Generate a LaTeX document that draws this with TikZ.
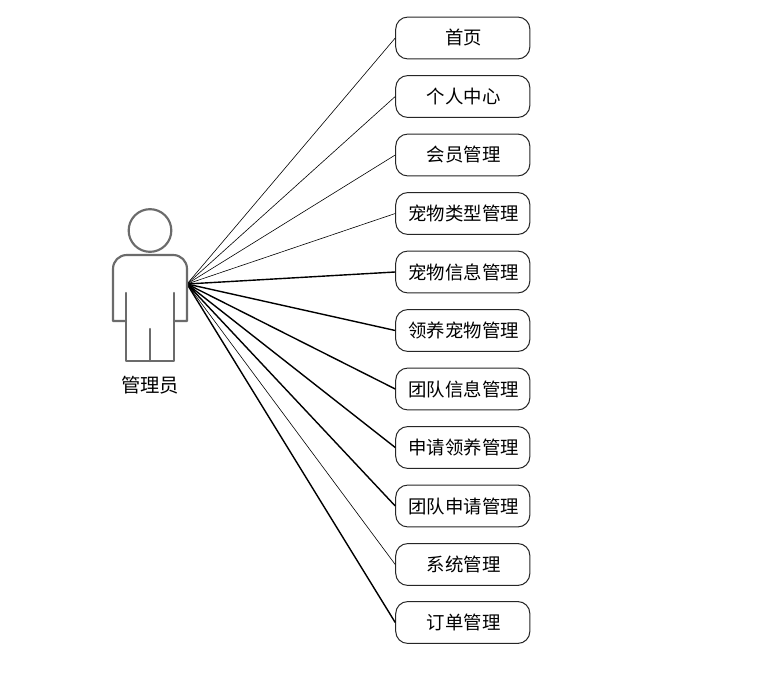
\documentclass[tikz,border=0pt]{standalone}
\usepackage{fontspec}
\setmainfont{Noto Sans CJK SC}
\tikzset{
  px/.style={x=0.75pt,y=-0.75pt},
  usecase/.style={draw=black!85,line width=0.75pt,rounded corners=9pt,minimum width=100.6pt,minimum height=31.4pt,inner sep=0pt,font=\fontsize{13.8pt}{16pt}\selectfont,text=black},
  thinlink/.style={draw=black,line width=0.45pt},
  thicklink/.style={draw=black,line width=1.05pt},
  actorline/.style={draw=black!58,line width=1.6pt,line join=round,line cap=round},
  actorlabel/.style={inner sep=0pt,font=\fontsize{14.5pt}{16pt}\selectfont,text=black}
}
\begin{document}
\begin{tikzpicture}[px]
\useasboundingbox (0,0) rectangle (771,691);
\fill[white] (0,0) rectangle (771,691);
\coordinate (actor) at (187,284);
\foreach \n/\y/\t in {a/38/首页,b/96.5/个人中心,c/155/会员管理,d/213.5/宠物类型管理,e/272/宠物信息管理,f/330.5/领养宠物管理,g/389/团队信息管理,h/447.5/申请领养管理,i/506/团队申请管理,j/564.5/系统管理,k/622.5/订单管理}{
  \node[usecase] (\n) at (462.8,\y) {\hspace{1.2pt}\raisebox{-0.6pt}{\t}};
}
\foreach \n in {a,b,c,d,j}{\draw[thinlink] (actor) -- (\n.west);}
\foreach \n in {e,f,g,h,i,k}{\draw[thicklink] (actor) -- (\n.west);}
\node[draw=black!58,line width=1.6pt,circle,minimum size=32pt,inner sep=0pt] (head) at (150,230.5) {};
\draw[actorline] (126,321) -- (113,321) -- (113,269) .. controls (113,261) and (119,255) .. (127,255) -- (173,255) .. controls (181,255) and (187,261) .. (187,269) -- (187,321) -- (174,321);
\draw[actorline] (126,293) -- (126,361) -- (174,361) -- (174,293);
\draw[actorline] (150,329) -- (150,361);
\node[actorlabel] (label) at (150,385.5) {管理员};
\end{tikzpicture}
\end{document}
